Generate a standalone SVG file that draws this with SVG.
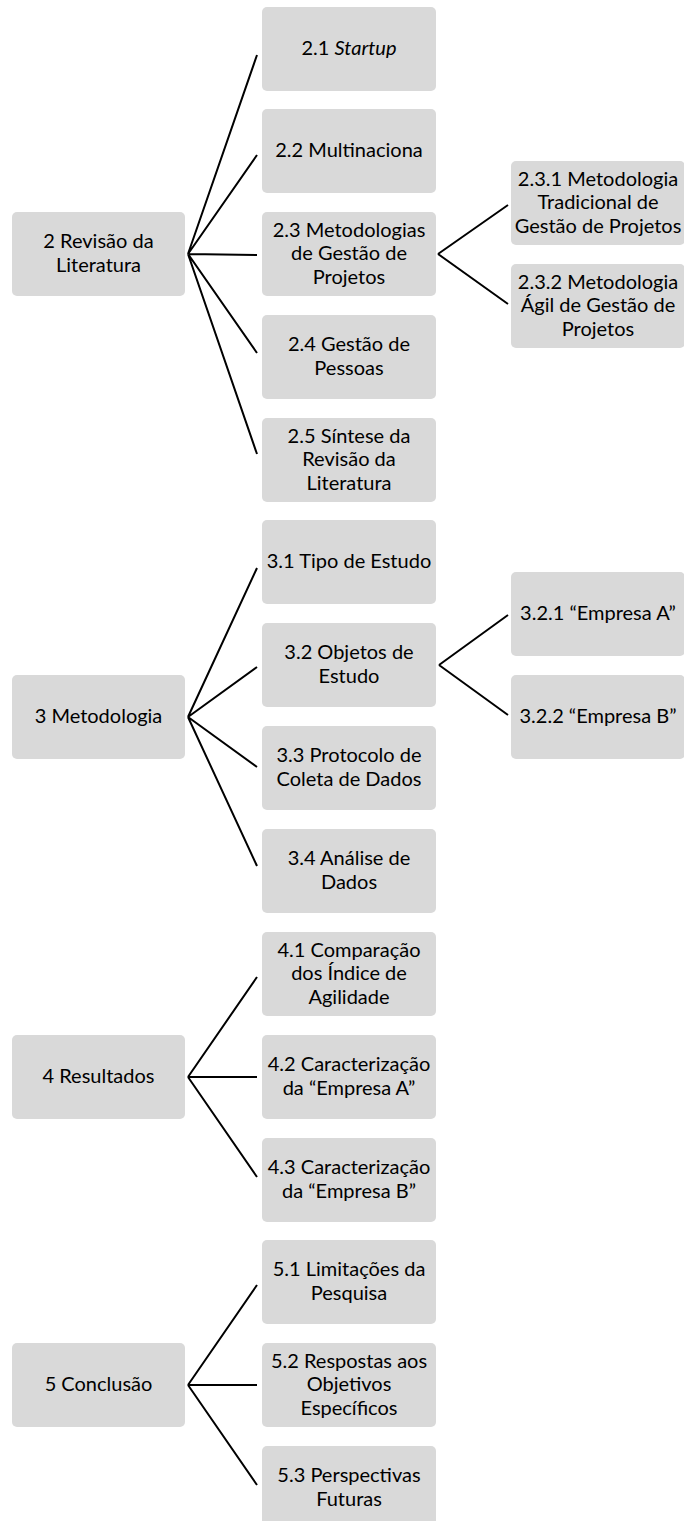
<svg xmlns="http://www.w3.org/2000/svg" width="684" height="1521" viewBox="0 0 684 1521">
<style>
.box{fill:#d9d9d9;}
.t{font-family:Lato,"Liberation Sans",sans-serif;font-size:20px;fill:#000;text-anchor:middle;}
.c{stroke:#000;stroke-width:2;fill:none;}
</style>
<rect width="684" height="1521" fill="#fff"/>
<g id="connectors">
<path class="c" d="M188,254 L257,55 M188,254 L257,155 M188,254 L257,255 M188,254 L257,353 M188,254 L257,454"/>
<path class="c" d="M438,254 L508,205 M438,254 L508,304"/>
<path class="c" d="M188,717 L257,568 M188,717 L257,667 M188,717 L257,767 M188,717 L257,866"/>
<path class="c" d="M439,665 L508,615 M439,665 L508,715"/>
<path class="c" d="M188,1077 L257,977 M188,1077 L257,1077 M188,1077 L257,1177"/>
<path class="c" d="M188,1385 L257,1285 M188,1385 L257,1385 M188,1385 L257,1485"/>
</g>
<g id="n2"><rect class="box" x="12" y="212" width="173" height="84" rx="5"/><text class="t"><tspan x="98.5" y="248.25">2 Revisão da</tspan><tspan x="98.5" y="271.75">Literatura</tspan></text></g>
<g id="n2_1"><rect class="box" x="262" y="7" width="174" height="84" rx="5"/><text class="t" x="349" y="55">2.1 <tspan font-style="italic">Startup</tspan></text></g>
<g id="n2_2"><rect class="box" x="262" y="109" width="174" height="84" rx="5"/><text class="t" x="349" y="157">2.2 Multinaciona</text></g>
<g id="n2_3"><rect class="box" x="262" y="212" width="174" height="84" rx="5"/><text class="t"><tspan x="349" y="236.5">2.3 Metodologias</tspan><tspan x="349" y="260">de Gestão de</tspan><tspan x="349" y="283.5">Projetos</tspan></text></g>
<g id="n2_3_1"><rect class="box" x="511" y="161" width="174" height="84" rx="5"/><text class="t"><tspan x="598" y="185.5">2.3.1 Metodologia</tspan><tspan x="598" y="209">Tradicional de</tspan><tspan x="598" y="232.5">Gestão de Projetos</tspan></text></g>
<g id="n2_3_2"><rect class="box" x="511" y="264" width="174" height="84" rx="5"/><text class="t"><tspan x="598" y="288.5">2.3.2 Metodologia</tspan><tspan x="598" y="312">Ágil de Gestão de</tspan><tspan x="598" y="335.5">Projetos</tspan></text></g>
<g id="n2_4"><rect class="box" x="262" y="315" width="174" height="84" rx="5"/><text class="t"><tspan x="349" y="351.25">2.4 Gestão de</tspan><tspan x="349" y="374.75">Pessoas</tspan></text></g>
<g id="n2_5"><rect class="box" x="262" y="418" width="174" height="84" rx="5"/><text class="t"><tspan x="349" y="442.5">2.5 Síntese da</tspan><tspan x="349" y="466">Revisão da</tspan><tspan x="349" y="489.5">Literatura</tspan></text></g>
<g id="n3"><rect class="box" x="12" y="675" width="173" height="84" rx="5"/><text class="t" x="98.5" y="723">3 Metodologia</text></g>
<g id="n3_1"><rect class="box" x="262" y="520" width="174" height="84" rx="5"/><text class="t" x="349" y="568">3.1 Tipo de Estudo</text></g>
<g id="n3_2"><rect class="box" x="262" y="623" width="174" height="84" rx="5"/><text class="t"><tspan x="349" y="659.25">3.2 Objetos de</tspan><tspan x="349" y="682.75">Estudo</tspan></text></g>
<g id="n3_2_1"><rect class="box" x="511" y="572" width="174" height="84" rx="5"/><text class="t" x="598" y="620">3.2.1 “Empresa A”</text></g>
<g id="n3_2_2"><rect class="box" x="511" y="675" width="174" height="84" rx="5"/><text class="t" x="598" y="723">3.2.2 “Empresa B”</text></g>
<g id="n3_3"><rect class="box" x="262" y="726" width="174" height="84" rx="5"/><text class="t"><tspan x="349" y="762.25">3.3 Protocolo de</tspan><tspan x="349" y="785.75">Coleta de Dados</tspan></text></g>
<g id="n3_4"><rect class="box" x="262" y="829" width="174" height="84" rx="5"/><text class="t"><tspan x="349" y="865.25">3.4 Análise de</tspan><tspan x="349" y="888.75">Dados</tspan></text></g>
<g id="n4"><rect class="box" x="12" y="1035" width="173" height="84" rx="5"/><text class="t" x="98.5" y="1083">4 Resultados</text></g>
<g id="n4_1"><rect class="box" x="262" y="932" width="174" height="84" rx="5"/><text class="t"><tspan x="349" y="956.5">4.1 Comparação</tspan><tspan x="349" y="980">dos Índice de</tspan><tspan x="349" y="1003.5">Agilidade</tspan></text></g>
<g id="n4_2"><rect class="box" x="262" y="1035" width="174" height="84" rx="5"/><text class="t"><tspan x="349" y="1071.25">4.2 Caracterização</tspan><tspan x="349" y="1094.75">da “Empresa A”</tspan></text></g>
<g id="n4_3"><rect class="box" x="262" y="1138" width="174" height="84" rx="5"/><text class="t"><tspan x="349" y="1174.25">4.3 Caracterização</tspan><tspan x="349" y="1197.75">da “Empresa B”</tspan></text></g>
<g id="n5"><rect class="box" x="12" y="1343" width="173" height="84" rx="5"/><text class="t" x="98.5" y="1391">5 Conclusão</text></g>
<g id="n5_1"><rect class="box" x="262" y="1240" width="174" height="84" rx="5"/><text class="t"><tspan x="349" y="1276.25">5.1 Limitações da</tspan><tspan x="349" y="1299.75">Pesquisa</tspan></text></g>
<g id="n5_2"><rect class="box" x="262" y="1343" width="174" height="84" rx="5"/><text class="t"><tspan x="349" y="1367.5">5.2 Respostas aos</tspan><tspan x="349" y="1391">Objetivos</tspan><tspan x="349" y="1414.5">Específicos</tspan></text></g>
<g id="n5_3"><rect class="box" x="262" y="1446" width="174" height="84" rx="5"/><text class="t"><tspan x="349" y="1482.25">5.3 Perspectivas</tspan><tspan x="349" y="1505.75">Futuras</tspan></text></g>
</svg>
